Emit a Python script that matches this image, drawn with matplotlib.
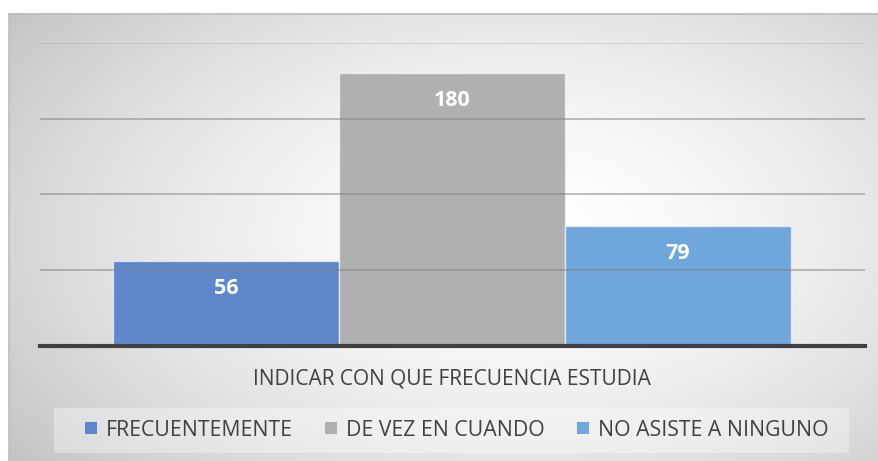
import numpy as np
import matplotlib
matplotlib.use("Agg")
import matplotlib.pyplot as plt
from matplotlib.patches import Patch, Rectangle

categories = ["FRECUENTEMENTE", "DE VEZ EN CUANDO", "NO ASISTE A NINGUNO"]
values = [56, 180, 79]
colors = ["#5E86CA", "#B0B0B0", "#6FA6DB"]
yticks = [0, 50, 100, 150, 200]
xlabel = "INDICAR CON QUE FRECUENCIA ESTUDIA"

W, H = 879, 461
fig = plt.figure(figsize=(W / 100, H / 100), dpi=100)
fig.patch.set_facecolor("white")

# background chart area with radial gradient
bg = fig.add_axes([0, 0, 1, 1], zorder=0)
bg.set_xlim(0, W)
bg.set_ylim(H, 0)
bg.axis("off")
x0, y0, x1, y1 = 9, 14, W, H
xs = np.linspace(x0, x1, 400)
ys = np.linspace(y0, y1, 220)
X, Y = np.meshgrid(xs, ys)
cx, cy = 520, 235
r = np.sqrt(((X - cx) / 560) ** 2 + ((Y - cy) / 330) ** 2)
r = np.clip(r, 0, 1.15)
v = 1.0 - 0.19 * (r ** 1.6)
img = np.dstack([v, v, v])
bg.imshow(img, extent=[x0, x1, y1, y0], aspect="auto", interpolation="bilinear", zorder=0)
bg.plot([x0, x1], [y0, y0], color="#bdbdbd", lw=1.2, zorder=1)
bg.plot([x0, x0], [y0, y1], color="#bdbdbd", lw=1.2, zorder=1)
# legend box
bg.add_patch(Rectangle((54, 408), 795, 45, facecolor="white", alpha=0.35, edgecolor="none", zorder=2))

# main axes
left, right = 40 / W, 865 / W
bottom, top = (H - 346) / H, (H - 43) / H
ax = fig.add_axes([left, bottom, right - left, top - bottom], zorder=2)
ax.patch.set_alpha(0)
x = np.arange(len(values))
bars = ax.bar(x, values, width=1.0, color=colors, edgecolor=(1, 1, 1, 0.6), linewidth=1.0, zorder=2)
ax.set_xlim(-0.824, 2.829)
ax.set_ylim(0, 200)
for t in yticks[1:]:
    a = 0.2 if t == yticks[-1] else 0.5
    ax.axhline(t, color="#7f7f7f", lw=1.4, alpha=a, zorder=3)
for s in ["left", "right", "top"]:
    ax.spines[s].set_visible(False)
ax.spines["bottom"].set_color("#404040")
ax.spines["bottom"].set_linewidth(3)
ax.spines["bottom"].set_zorder(4)
ax.set_xticks([])
ax.set_yticks([])

for xi, val in zip(x, values):
    ax.annotate(str(val), (xi, val), xytext=(0, -19.5), textcoords="offset points",
                ha="center", va="center", color="white", fontsize=15.5, fontweight="bold",
                family="Open Sans", zorder=5)

fig.text(452 / W, 1 - 379 / H, xlabel, ha="center", va="center", fontsize=15,
         color="#404040", family="Open Sans")

handles = [Patch(facecolor=c, edgecolor="none") for c in colors]
leg = fig.legend(handles, categories, loc="center", bbox_to_anchor=(457 / W, 1 - 430 / H), ncol=3,
                 frameon=False, prop={"family": "Open Sans", "size": 15.3},
                 handlelength=0.55, handleheight=0.55, handletextpad=0.45, columnspacing=1.5)
for t in leg.get_texts():
    t.set_color("#404040")

fig.savefig("out.png", dpi=100)
